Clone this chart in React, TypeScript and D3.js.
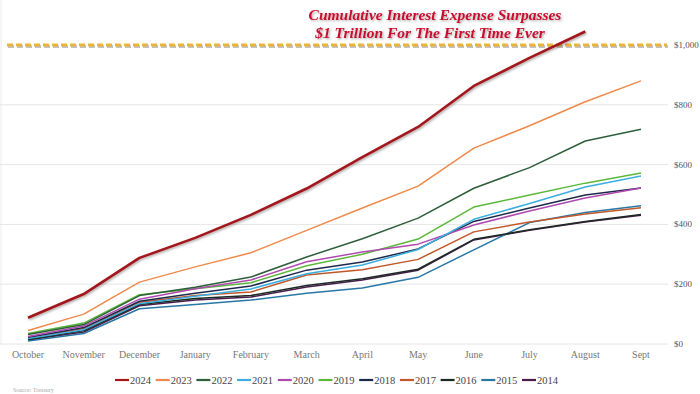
import React, { useEffect, useRef } from 'react';
import * as d3 from 'd3';

const months = ['October', 'November', 'December', 'January', 'February', 'March', 'April', 'May', 'June', 'July', 'August', 'Sept'];
const yTicks = [0, 200, 400, 600, 800, 1000];

const years = ['2024', '2023', '2022', '2021', '2020', '2019', '2018', '2017', '2016', '2015', '2014'];
const colors = ['#a3161c', '#f08a4b', '#2e5e3a', '#3aaee0', '#b04ab0', '#5cb83a', '#1e2a4c', '#c0582a', '#1b2a22', '#2877a6', '#4a1d4c'];

// cumulative interest expense, $bn, Oct..Sept
const y2024 = [88, 167, 288, 355, 432, 520, 625, 726, 863, 957, 1045];
const y2023 = [45, 100, 207, 258, 305, 380, 455, 528, 655, 730, 810, 880];
const y2022 = [32, 65, 162, 190, 224, 291, 352, 421, 521, 590, 679, 718];
const y2021 = [18, 48, 135, 160, 184, 235, 264, 316, 417, 470, 525, 562];
const y2020 = [25, 60, 150, 185, 214, 275, 308, 334, 398, 445, 488, 522];
const y2019 = [35, 70, 165, 185, 205, 262, 300, 351, 458, 498, 538, 572];
const y2018 = [22, 55, 143, 170, 194, 247, 274, 318, 410, 455, 498, 522];
const y2017 = [20, 52, 140, 162, 174, 231, 248, 283, 375, 408, 435, 456];
const y2016 = [15, 45, 132, 152, 162, 196, 218, 250, 350, 382, 410, 433];
const y2015 = [10, 35, 118, 132, 147, 170, 187, 223, 315, 406, 440, 462];
const y2014 = [13, 40, 128, 147, 157, 191, 214, 247, 348, 380, 408, 431];

const seriesValues = [y2024, y2023, y2022, y2021, y2020, y2019, y2018, y2017, y2016, y2015, y2014];

const W = 700;
const H = 394;

const App: React.FC = () => {
  const svgRef = useRef<SVGSVGElement>(null);

  useEffect(() => {
    if (!svgRef.current) return;
    const svg = d3.select(svgRef.current);
    svg.selectAll('*').remove();

    const x = d3.scalePoint<string>().domain(months).range([28, 641]);
    const y = d3.scaleLinear().domain([0, 1000]).range([344, 45]);

    const defs = svg.append('defs');
    const f = defs.append('filter').attr('id', 'shadow').attr('x', '-10%').attr('y', '-50%').attr('width', '120%').attr('height', '200%');
    f.append('feDropShadow').attr('dx', 1.2).attr('dy', 1.2).attr('stdDeviation', 0.8).attr('flood-color', '#000').attr('flood-opacity', 0.35);

    svg.append('rect').attr('width', W).attr('height', H).attr('fill', '#fff');

    // grid
    svg.append('line').attr('x1', 1).attr('x2', 1).attr('y1', 0).attr('y2', 345).attr('stroke', '#ececec');
    svg.append('g')
      .selectAll('line')
      .data(yTicks.slice(0, -1))
      .enter().append('line')
      .attr('x1', 0).attr('x2', 668)
      .attr('y1', d => y(d)).attr('y2', d => y(d))
      .attr('stroke', '#e6e6e6').attr('stroke-width', 1);

    // y labels (right side)
    svg.append('g')
      .selectAll('text')
      .data(yTicks)
      .enter().append('text')
      .attr('x', 674).attr('y', d => y(d) + 3)
      .style('font-family', '"Liberation Serif", serif')
      .style('font-size', '9px')
      .style('fill', '#555')
      .text(d => '$' + d3.format(',')(d));

    // x labels
    svg.append('g')
      .selectAll('text')
      .data(months)
      .enter().append('text')
      .attr('x', d => x(d)!).attr('y', 358)
      .attr('text-anchor', 'middle')
      .style('font-family', '"Liberation Serif", serif')
      .style('font-size', '10px')
      .style('fill', '#777')
      .text(d => d);

    // $1T dashed line
    svg.append('line')
      .attr('x1', 8).attr('x2', 668).attr('y1', y(1000) + 1.5).attr('y2', y(1000) + 1.5)
      .attr('stroke', '#9a9a9a').attr('stroke-width', 3).attr('stroke-dasharray', '6,3').attr('opacity', 0.6);
    svg.append('line')
      .attr('x1', 7).attr('x2', 667).attr('y1', y(1000)).attr('y2', y(1000))
      .attr('stroke', '#eab33a').attr('stroke-width', 3).attr('stroke-dasharray', '6,3');

    // lines (draw oldest first so 2024 on top)
    const line = d3.line<number>().x((_, i) => x(months[i])!).y(d => y(d));
    const order = d3.range(years.length).reverse();
    svg.append('g')
      .selectAll('path')
      .data(order)
      .enter().append('path')
      .attr('d', i => line(seriesValues[i]))
      .attr('fill', 'none')
      .attr('stroke', i => colors[i])
      .attr('stroke-width', i => (i === 0 ? 2.6 : 1.5))
      .attr('stroke-linejoin', 'round')
      .attr('filter', i => (i === 0 ? 'url(#shadow)' : null));

    // title
    const title = svg.append('g')
      .attr('filter', 'url(#shadow)')
      .style('font-family', '"Liberation Serif", "DejaVu Serif", serif')
      .style('font-weight', 'bold')
      .style('font-style', 'italic')
      .style('font-size', '15.5px')
      .style('fill', '#c8102e')
      .attr('text-anchor', 'middle');
    title.append('text').attr('x', 435).attr('y', 20).text('Cumulative Interest Expense Surpasses');
    title.append('text').attr('x', 430).attr('y', 38).text('$1 Trillion For The First Time Ever');

    // legend
    const leg = svg.append('g').attr('transform', 'translate(115,380)');
    const item = leg.selectAll('g')
      .data(years)
      .enter().append('g')
      .attr('transform', (_, i) => `translate(${i * 40.7},0)`);
    item.append('line')
      .attr('x1', 0).attr('x2', 14).attr('y1', 0).attr('y2', 0)
      .attr('stroke', (_, i) => colors[i]).attr('stroke-width', 2.2);
    item.append('text')
      .attr('x', 15).attr('y', 3.5)
      .style('font-family', '"Liberation Serif", serif')
      .style('font-size', '10.5px')
      .style('fill', '#444')
      .text(d => d);

    svg.append('text')
      .attr('x', 13).attr('y', 392)
      .style('font-family', '"Liberation Serif", serif')
      .style('font-size', '6px')
      .style('fill', '#aaa')
      .text('Source: Treasury');
  }, []);

  return (
    <svg
      ref={svgRef}
      width={W}
      height={H}
      style={{ position: 'absolute', top: 0, left: 0, display: 'block' }}
    />
  );
};

export default App;
